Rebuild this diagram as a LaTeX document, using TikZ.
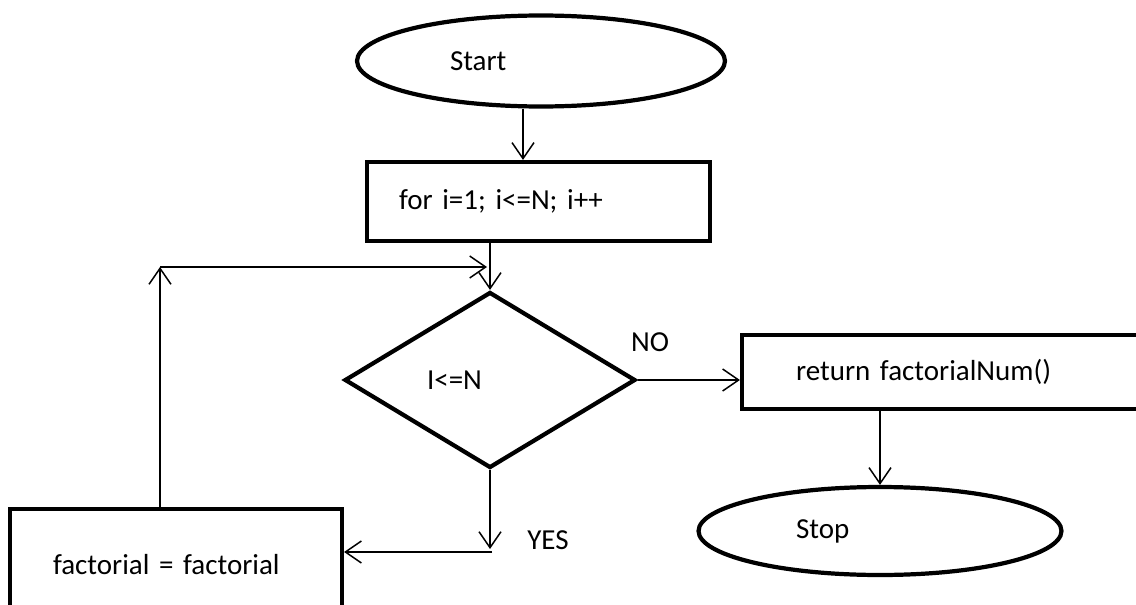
\documentclass[tikz,border=0pt]{standalone}
\usepackage{fontspec}
\setmainfont{Carlito}[WordSpace=0.6]
\usetikzlibrary{arrows.meta, shapes.geometric}

\begin{document}
\begin{tikzpicture}[x=0.02cm, y=-0.02cm,
  term/.style={draw, ellipse, line width=2.4pt, align=left, font=\fontsize{16.5}{20}\selectfont},
  box/.style={draw, rectangle, line width=2.4pt, align=left, font=\fontsize{16.5}{20}\selectfont},
  test/.style={draw, diamond, aspect=1.65, line width=2.4pt, align=left, font=\fontsize{16.5}{20}\selectfont},
  lbl/.style={font=\fontsize{16.5}{20}\selectfont},
  arr/.style={-{Straight Barb[length=3.2mm, width=4.4mm]}, line width=0.85pt}
]
\path[use as bounding box, clip] (0,0) rectangle (1136,605);
\node[term, minimum width=7.36cm, minimum height=1.82cm, text width=3.64cm] (start) at (541,61) {Start};
\node[box, minimum width=6.86cm, minimum height=1.58cm, text width=5.58cm] (forbox) at (538.5,201.5) {for i=1; i<=N; i++};
\node[test, minimum width=5.82cm, minimum height=3.52cm, text width=2.52cm] (cond) at (490,380) {I<=N};
\node[box, minimum width=8.76cm, minimum height=1.48cm, text width=6.6cm] (retbox) at (961,372) {return factorialNum()};
\node[term, minimum width=7.26cm, minimum height=1.76cm, text width=3.36cm] (stop) at (880,531) {Stop};
\node[box, minimum width=6.64cm, minimum height=2.22cm, text width=4.92cm] (factbox) at (176,564.5) {factorial = factorial};
\node[lbl] (nolbl) at (650,342) {NO};
\node[lbl] (yeslbl) at (548,540) {YES};
\coordinate (loop) at (160,267);
\coordinate (loopin) at (487,267);
\coordinate (yesend) at (490,549);
\coordinate (yesturn) at (492,552);
\draw[arr] ([xshift=-0.36cm]start.south) -- ([xshift=-0.36cm]start.south |- forbox.north);
\draw[arr] (forbox.south -| cond.north) -- (cond.north);
\draw[arr] (loop |- factbox.north) -- (loop);
\draw[arr] (loop) -- (loopin);
\draw[arr] (cond.east) -- (cond.east -| retbox.west);
\draw[arr] (retbox.south -| stop.north) -- (stop.north);
\draw[arr] (cond.south) -- (yesend);
\draw[arr] (yesturn) -- (yesturn -| factbox.east);
\end{tikzpicture}
\end{document}
